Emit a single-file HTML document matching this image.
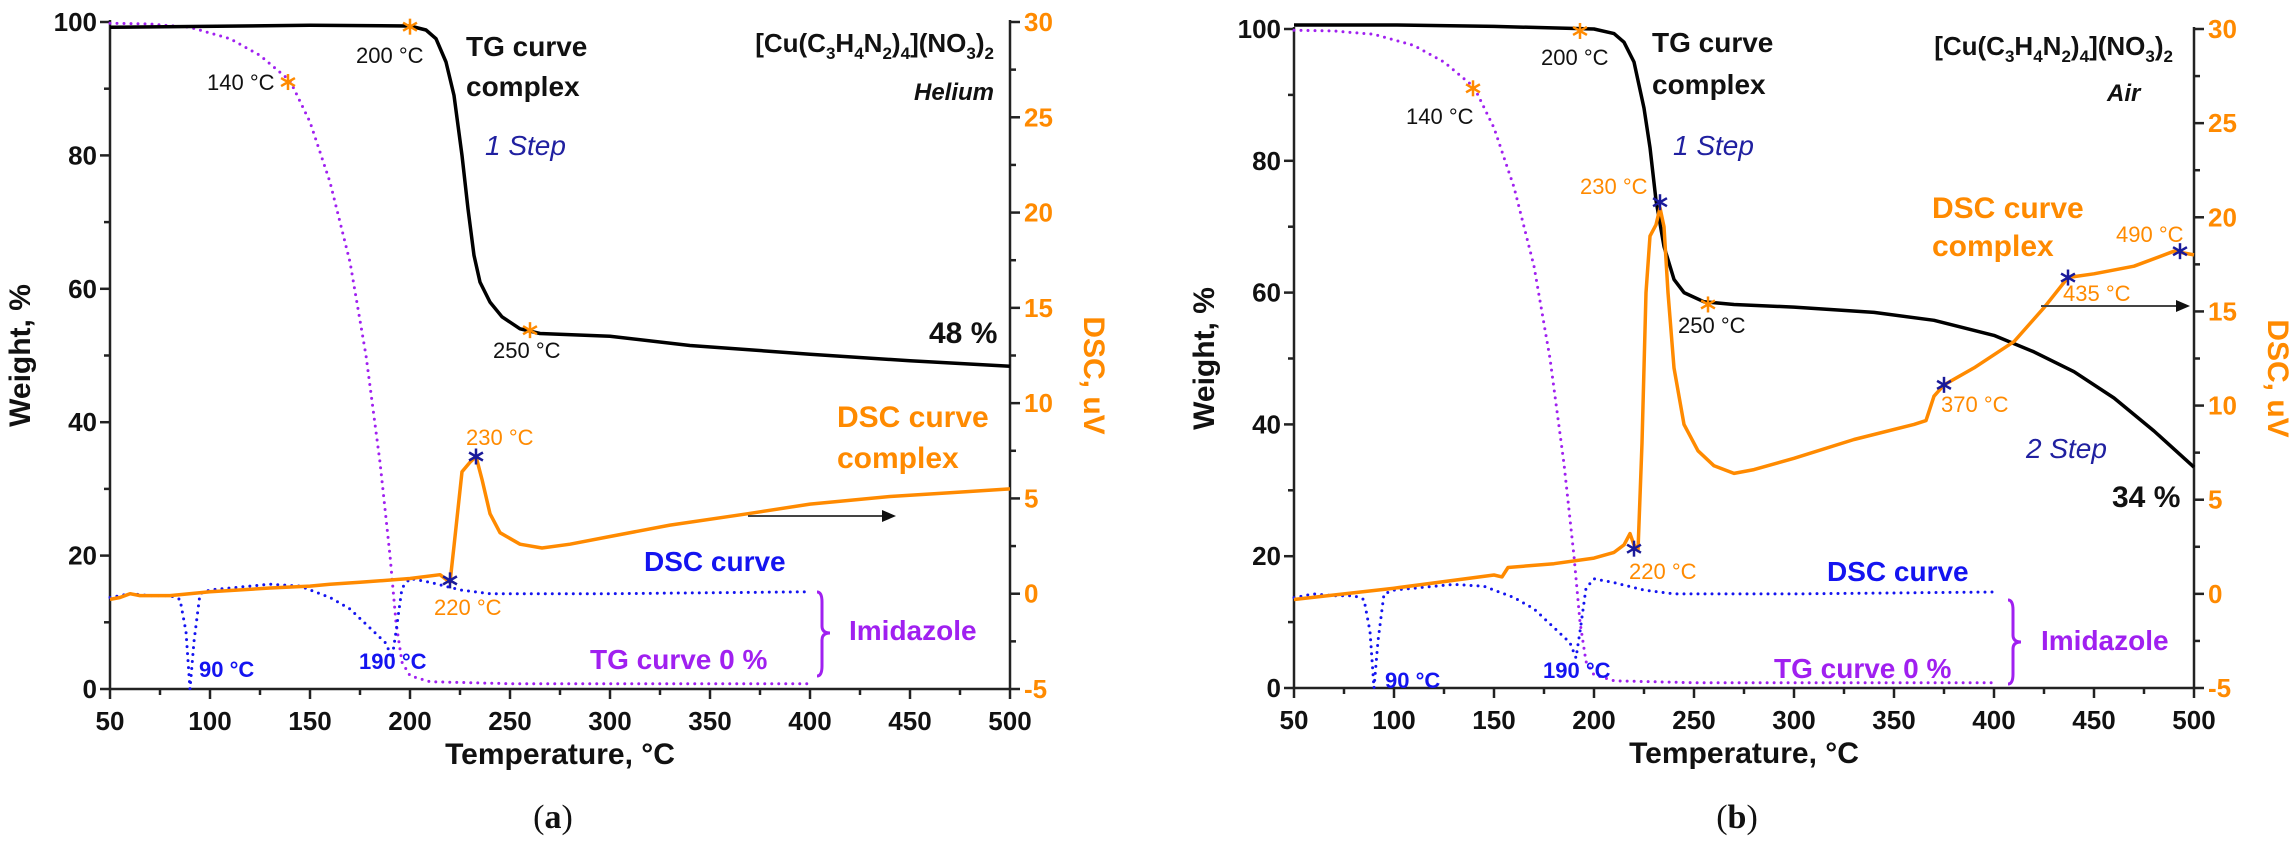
<!DOCTYPE html>
<html><head><meta charset="utf-8">
<style>
html,body{margin:0;padding:0;background:#fff;}
svg{display:block;font-family:"Liberation Sans",Arial,sans-serif;}
</style></head>
<body>
<svg id="s" width="2293" height="841" viewBox="0 0 2293 841" xmlns="http://www.w3.org/2000/svg"></svg>
<script>
const S=document.getElementById('s');
let out='';
const OR='#ff8a00',BL='#1414f0',PU='#a020f0',NAVY='#2020a0';
function panel(ox,top,bot,d){
  const X=t=>ox+(t-50)*2, Yw=w=>bot-(bot-top)*w/100, Yv=v=>top+(30-v)*(bot-top)/35;
  const right=ox+900;
  let s='';
  s+=`<line x1="${ox}" y1="${top-2}" x2="${ox}" y2="${bot}" stroke="#222" stroke-width="2.5"/>`;
  s+=`<line x1="${right}" y1="${top-2}" x2="${right}" y2="${bot}" stroke="#222" stroke-width="2.5"/>`;
  s+=`<line x1="${ox}" y1="${bot}" x2="${right}" y2="${bot}" stroke="#222" stroke-width="2.5"/>`;
  for(let t=50;t<=500;t+=25){const maj=(t%50==0);s+=`<line x1="${X(t)}" y1="${bot}" x2="${X(t)}" y2="${bot+(maj?10:6)}" stroke="#222" stroke-width="2.5"/>`;
    if(maj)s+=`<text x="${X(t)}" y="${bot+41}" font-size="26" font-weight="bold" text-anchor="middle" fill="#111">${t}</text>`;}
  for(let w=0;w<=100;w+=10){const maj=(w%20==0);s+=`<line x1="${ox}" y1="${Yw(w)}" x2="${ox-(maj?10:6)}" y2="${Yw(w)}" stroke="#222" stroke-width="2.5"/>`;
    if(maj)s+=`<text x="${ox-13}" y="${Yw(w)+9}" font-size="26" font-weight="bold" text-anchor="end" fill="#111">${w}</text>`;}
  for(let v=-5;v<=30;v+=2.5){const maj=(v%5==0);s+=`<line x1="${right}" y1="${Yv(v)}" x2="${right+(maj?10:6)}" y2="${Yv(v)}" stroke="#222" stroke-width="2.5"/>`;
    if(maj)s+=`<text x="${right+14}" y="${Yv(v)+9}" font-size="26" font-weight="bold" fill="${OR}">${v}</text>`;}
  s+=`<text x="${ox+450}" y="${bot+75}" font-size="30" font-weight="bold" text-anchor="middle" fill="#111">Temperature, °C</text>`;
  s+=`<text transform="translate(${ox-80},${(top+bot)/2}) rotate(-90)" font-size="30" font-weight="bold" text-anchor="middle" fill="#111">Weight, %</text>`;
  s+=`<text transform="translate(${right+74},${(top+bot)/2+20}) rotate(90)" font-size="30" font-weight="bold" text-anchor="middle" fill="${OR}">DSC, uV</text>`;
  const path=(pts,f)=>pts.map((p,i)=>(i?'L':'M')+X(p[0]).toFixed(1)+' '+f(p[1]).toFixed(1)).join(' ');
  s+=`<path d="${path(d.pt,Yw)}" fill="none" stroke="${PU}" stroke-width="3" stroke-linecap="round" stroke-dasharray="0 7"/>`;
  s+=`<path d="${path(d.bd,Yv)}" fill="none" stroke="${BL}" stroke-width="3" stroke-linecap="round" stroke-dasharray="0 7"/>`;
  s+=`<path d="${path(d.tg,Yw)}" fill="none" stroke="#000" stroke-width="3.5" stroke-linejoin="round"/>`;
  s+=`<path d="${path(d.dsc,Yv)}" fill="none" stroke="${OR}" stroke-width="3.5" stroke-linejoin="round"/>`;
  const star=(x,y,c)=>{let r='';for(let k=0;k<3;k++){const a=Math.PI/2+k*Math.PI/3;r+=`<line x1="${x-8*Math.cos(a)}" y1="${y-8*Math.sin(a)}" x2="${x+8*Math.cos(a)}" y2="${y+8*Math.sin(a)}" stroke="${c}" stroke-width="2.5"/>`;}return r;};
  d.sw.forEach(p=>s+=star(X(p[0]),Yw(p[1]),OR));
  d.sv.forEach(p=>s+=star(X(p[0]),Yv(p[1]),'#1a1a9a'));
  return s;
}
const pt=[[50,99.8],[70,99.7],[90,99.2],[110,97.5],[125,95],[140,91.2],[150,85],[160,76],[170,64],[178,50],[185,34],[190,20],[193,10],[196,4],[200,2],[210,1.1],[250,0.8],[400,0.8]];
const bd=[[50,-0.2],[60,0],[70,-0.1],[80,-0.1],[85,-0.3],[88,-2],[90,-5],[92,-2.5],[95,0],[100,0.2],[130,0.5],[145,0.4],[160,-0.2],[170,-0.8],[180,-1.8],[188,-2.6],[191,-3.4],[193,-2],[196,0.3],[200,0.8],[210,0.6],[225,0.2],[240,0],[300,0],[400,0.1]];
out+=panel(110,22,689,{pt:pt,bd:bd,
 tg:[[50,99.2],[150,99.5],[200,99.4],[208,98.8],[213,97.5],[218,94],[222,89],[226,80],[229,72],[232,65],[235,61],[240,58],[246,55.8],[255,54],[265,53.3],[300,52.9],[340,51.5],[400,50.2],[450,49.2],[500,48.4]],
 dsc:[[50,-0.3],[55,-0.2],[60,0],[65,-0.1],[80,-0.1],[100,0.1],[130,0.3],[150,0.4],[160,0.5],[175,0.6],[200,0.8],[215,1.0],[220,0.6],[222,2.5],[226,6.4],[230,6.9],[233,7.2],[236,6],[240,4.2],[245,3.2],[255,2.6],[266,2.4],[280,2.6],[300,3.0],[330,3.6],[369,4.2],[400,4.7],[440,5.1],[470,5.3],[500,5.5]],
 sw:[[200,99.3],[139,91],[260,53.8]], sv:[[233,7.2],[220,0.7]]});
out+=panel(1294,29,688,{pt:pt,bd:bd,
 tg:[[50,100.6],[100,100.6],[150,100.4],[200,100],[210,99.3],[215,98],[220,95],[225,88],[228,82],[231,74],[235,67],[240,62],[245,60],[255,58.6],[270,58.2],[300,57.8],[340,57],[370,55.8],[400,53.5],[420,51],[440,48],[460,44],[480,39],[500,33.5]],
 dsc:[[50,-0.3],[100,0.3],[150,1.0],[154,0.9],[157,1.4],[180,1.6],[200,1.9],[210,2.2],[215,2.6],[218,3.2],[220,2.6],[222,2.3],[224,8],[226,16],[228,19],[231,19.6],[233,20.5],[235,19.5],[237,16],[240,12],[245,9],[252,7.6],[260,6.8],[270,6.4],[280,6.6],[300,7.2],[330,8.2],[360,9.0],[366,9.2],[370,10.5],[375,11.1],[390,12.0],[410,13.4],[425,15.2],[437,16.8],[450,17.0],[470,17.4],[490,18.2],[500,18.0]],
 sw:[[193,99.7],[139.5,91],[257,58.2]], sv:[[233,20.8],[220,2.4],[375,11.1],[437,16.8],[493,18.2]]});
function T(x,y,txt,sz,col,extra){out+=`<text x="${x}" y="${y}" font-size="${sz}" fill="${col}" ${extra||''}>${txt}</text>`;}
const B='font-weight="bold"',I='font-style="italic"';
const formula=(x,y)=>`<text x="${x}" y="${y}" font-size="26" font-weight="bold" fill="#111" text-anchor="end">[Cu(C<tspan font-size="17" dy="7">3</tspan><tspan dy="-7">H</tspan><tspan font-size="17" dy="7">4</tspan><tspan dy="-7">N</tspan><tspan font-size="17" dy="7">2</tspan><tspan dy="-7">)</tspan><tspan font-size="17" dy="7">4</tspan><tspan dy="-7">](NO</tspan><tspan font-size="17" dy="7">3</tspan><tspan dy="-7">)</tspan><tspan font-size="17" dy="7">2</tspan></text>`;
T(466,56,'TG curve',28,'#111',B);T(466,96,'complex',28,'#111',B);
out+=formula(994,52);T(994,100,'Helium',24,'#111',B+' '+I+' text-anchor="end"');
T(485,155,'1 Step',28,NAVY,I);T(929,343,'48 %',30,'#111',B);
T(837,427,'DSC curve',30,OR,B);T(837,468,'complex',30,OR,B);
T(466,445,'230 °C',22,OR);T(434,615,'220 °C',22,OR);
T(356,63,'200 °C',22,'#111');T(207,90,'140 °C',22,'#111');T(493,358,'250 °C',22,'#111');
T(644,571,'DSC curve',28,BL,B);T(849,640,'Imidazole',28,PU,B);T(590,669,'TG curve 0 %',28,PU,B);
T(359,669,'190 °C',22,BL,B);T(199,677,'90 °C',22,BL,B);
out+=`<line x1="748" y1="516" x2="886" y2="516" stroke="#444" stroke-width="2"/><path d="M896 516 L882 510 L882 522 Z" fill="#111"/>`;
out+=`<path d="M817 592 Q822 592 822 602 L822 626 Q822 633 830 633 Q822 633 822 640 L822 666 Q822 676 817 676" fill="none" stroke="${PU}" stroke-width="3"/>`;
out+=`<text x="553" y="828" font-size="34" font-family="Liberation Serif,serif" text-anchor="middle" fill="#111">(<tspan font-weight="bold">a</tspan>)</text>`;
T(1652,52,'TG curve',28,'#111',B);T(1652,94,'complex',28,'#111',B);
out+=formula(2173,55);T(2107,101,'Air',24,'#111',B+' '+I);
T(1673,155,'1 Step',28,NAVY,I);T(1580,194,'230 °C',22,OR);
T(1932,218,'DSC curve',30,OR,B);T(1932,256,'complex',30,OR,B);
T(2116,242,'490 °C',22,OR);T(2063,301,'435 °C',22,OR);
out+=`<line x1="2041" y1="306" x2="2180" y2="306" stroke="#444" stroke-width="2"/><path d="M2190 306 L2176 300 L2176 312 Z" fill="#111"/>`;
T(1678,333,'250 °C',22,'#111');T(1941,412,'370 °C',22,OR);
T(2026,458,'2 Step',28,NAVY,I);T(2112,507,'34 %',30,'#111',B);
T(1629,579,'220 °C',22,OR);T(1827,581,'DSC curve',28,BL,B);
T(2041,650,'Imidazole',28,PU,B);T(1774,678,'TG curve  0 %',28,PU,B);
T(1543,678,'190 °C',22,BL,B);T(1385,688,'90 °C',22,BL,B);
T(1541,65,'200 °C',22,'#111');T(1406,124,'140 °C',22,'#111');
out+=`<path d="M2008 600 Q2013 600 2013 610 L2013 635 Q2013 642 2021 642 Q2013 642 2013 649 L2013 674 Q2013 684 2008 684" fill="none" stroke="${PU}" stroke-width="3"/>`;
out+=`<text x="1737" y="828" font-size="34" font-family="Liberation Serif,serif" text-anchor="middle" fill="#111">(<tspan font-weight="bold">b</tspan>)</text>`;
S.innerHTML=out;
</script>
</body></html>
